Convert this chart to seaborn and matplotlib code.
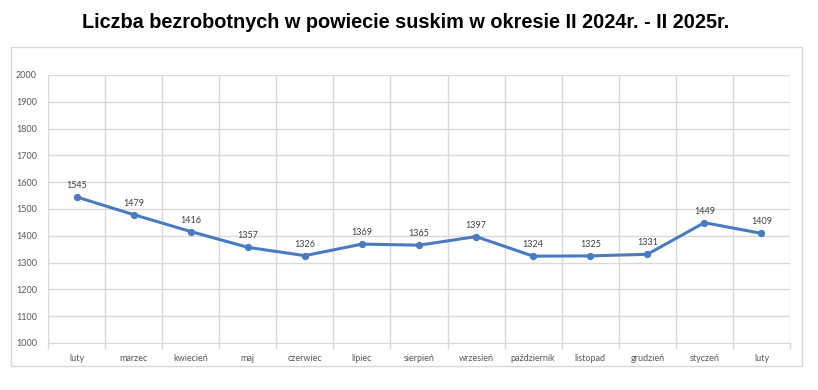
import numpy as np
import pandas as pd
import matplotlib
matplotlib.use("Agg")
import matplotlib.pyplot as plt
from matplotlib.patches import Rectangle
from matplotlib.ticker import MultipleLocator, FixedLocator
import seaborn as sns

# === Data ===
months = ["luty", "marzec", "kwiecień", "maj", "czerwiec", "lipiec", "sierpień",
          "wrzesień", "październik", "listopad", "grudzień", "styczeń", "luty"]
values = [1545, 1479, 1416, 1357, 1326, 1369, 1365, 1397, 1324, 1325, 1331, 1449, 1409]
title = "Liczba bezrobotnych w powiecie suskim w okresie II 2024r. - II 2025r."

df = pd.DataFrame({"pos": np.arange(len(months)), "value": values})

sns.set_style("white")
plt.rcParams["font.family"] = ["Lato", "DejaVu Sans"]

fig = plt.figure(figsize=(8.18, 3.9), dpi=100)
ax = fig.add_axes([48 / 818, 1 - 343 / 390, (790 - 48) / 818, (343 - 75) / 390])

# outer chart frame
fig.patches.append(Rectangle((11 / 818, 1 - 366 / 390), (802 - 11) / 818, (366 - 47) / 390,
                             transform=fig.transFigure, fill=False, edgecolor="#d9d9d9", lw=1))

sns.lineplot(data=df, x="pos", y="value", ax=ax, color="#4a7bc0", lw=2.2,
             marker="o", markersize=4.5, markeredgecolor="#4a7bc0")

for x, v in zip(df["pos"], df["value"]):
    ax.annotate(str(v), (x, v), xytext=(0, 5), textcoords="offset points",
                ha="center", va="bottom", fontsize=6.5, color="#404040")

ax.set_xlim(-0.5, len(months) - 0.5)
ax.set_ylim(1000, 2000)
ax.yaxis.set_major_locator(MultipleLocator(100))
ax.set_xticks(df["pos"])
ax.set_xticklabels(months)
ax.xaxis.set_minor_locator(FixedLocator(np.arange(-0.5, len(months), 1)))

ax.grid(True, axis="y", color="#d9d9d9", lw=1)
ax.grid(True, axis="x", which="minor", color="#d9d9d9", lw=1)
ax.set_axisbelow(True)
for s in ["top", "right", "left"]:
    ax.spines[s].set_visible(False)
ax.spines["bottom"].set_color("#d9d9d9")

ax.tick_params(axis="x", which="major", length=0, pad=8, labelsize=6.5, labelcolor="#595959")
ax.tick_params(axis="x", which="minor", length=4, color="#d9d9d9", width=1, bottom=True)
ax.tick_params(axis="y", length=0, pad=8, labelsize=6.5, labelcolor="#595959")
ax.set_xlabel("")
ax.set_ylabel("")

fig.text(406 / 818, 1 - 22 / 390, title, ha="center", va="center", fontsize=14.3,
         fontweight="bold", family=["Liberation Sans", "DejaVu Sans"], color="black")

fig.savefig("out.png", dpi=100, facecolor="white")
